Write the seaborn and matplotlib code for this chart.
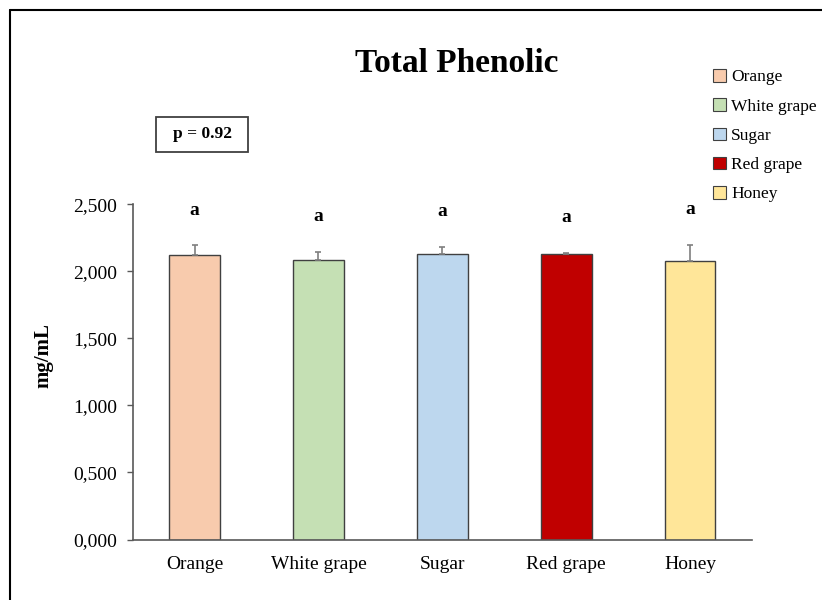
import numpy as np
import pandas as pd
import matplotlib.pyplot as plt
import seaborn as sns
from matplotlib.patches import Patch, Rectangle
from matplotlib.lines import Line2D

# --------------------------
# Data
# --------------------------
categories = ["Orange", "White grape", "Sugar", "Red grape", "Honey"]
means = [2.124, 2.083, 2.128, 2.126, 2.079]
sds = [0.071, 0.063, 0.057, 0.013, 0.119]
letters = ["a", "a", "a", "a", "a"]
colors = ["#F8CBAD", "#C5E0B4", "#BDD7EE", "#C00000", "#FFE699"]
p_text = "p = 0.92"

df = pd.DataFrame({"group": categories, "value": means, "sd": sds})
palette = dict(zip(categories, colors))

sns.set_style("white")
plt.rcParams["font.family"] = ["Liberation Serif", "DejaVu Serif"]
plt.rcParams["text.color"] = "black"
plt.rcParams["xtick.color"] = "black"
plt.rcParams["ytick.color"] = "black"

fig = plt.figure(figsize=(8.22, 6.0), dpi=100)
ax = fig.add_axes([0.1614, 0.1008, 0.7534, 0.5587])

sns.barplot(data=df, x="group", y="value", hue="group", palette=palette,
            order=categories, hue_order=categories, width=0.41, saturation=1,
            edgecolor="#404040", linewidth=1.0, legend=False, errorbar=None, ax=ax)

# upper-only error bars
ax.errorbar(np.arange(len(categories)), df["value"],
            yerr=[np.zeros(len(categories)), df["sd"]],
            fmt="none", ecolor="#7f7f7f", elinewidth=1.2, capsize=2.5, capthick=1.2)

# significance letters
for i, (m, s, lab) in enumerate(zip(means, sds, letters)):
    ax.text(i, m + s + 0.26, lab, ha="center", va="center",
            fontsize=14, fontweight="bold", color="black")

# axes styling
ax.set_ylim(0, 2.5)
ax.set_xlim(-0.5, len(categories) - 0.5)
yt = np.arange(0, 2.51, 0.5)
ax.set_yticks(yt)
ax.set_yticklabels([f"{v:.3f}".replace(".", ",") for v in yt], fontsize=14)
ax.set_xticks(np.arange(len(categories)))
ax.set_xticklabels(categories, fontsize=14)
ax.set_xticks(np.arange(-0.5, len(categories)), minor=True)
ax.tick_params(axis="x", which="major", length=0, pad=12, labelcolor="black")
ax.tick_params(axis="x", which="minor", length=4, width=1.0, color="#595959", direction="out")
ax.tick_params(axis="y", length=4, width=1.0, color="#595959", direction="out", pad=7,
               left=True, labelcolor="black")
ax.set_xlabel("")
ax.set_ylabel("")
for side in ["top", "right"]:
    ax.spines[side].set_visible(False)
for side in ["left", "bottom"]:
    ax.spines[side].set_color("#595959")
    ax.spines[side].set_linewidth(1.2)

# texts outside axes
fig.text(457 / 822, 1 - 63 / 600, "Total Phenolic", ha="center", va="center",
         fontsize=24, fontweight="bold", color="black")
fig.text(43 / 822, 1 - 355 / 600, "mg/mL", ha="center", va="center",
         rotation=90, fontsize=15, fontweight="bold", color="black")

# p-value box
fig.patches.append(Rectangle((156 / 822, 1 - 152 / 600), 92 / 822, 35 / 600,
                             transform=fig.transFigure, fill=False,
                             edgecolor="#404040", linewidth=1.3))
fig.text(202 / 822, 1 - 134 / 600, p_text, ha="center", va="center",
         fontsize=12.5, fontweight="bold", color="black")

# legend
handles = [Patch(facecolor=c, edgecolor="#404040", linewidth=0.8) for c in colors]
leg = fig.legend(handles, categories, loc="upper left",
                 bbox_to_anchor=(713 / 822, 1 - 69 / 600), frameon=False,
                 fontsize=12.5, handlelength=0.75, handleheight=0.75,
                 handletextpad=0.3, labelspacing=0.74, borderpad=0, borderaxespad=0)
for t in leg.get_texts():
    t.set_color("black")

# outer frame (left and top edges visible in the reference)
fig.lines.append(Line2D([9.5 / 822, 9.5 / 822], [0, 1 - 9.5 / 600],
                        transform=fig.transFigure, color="black", linewidth=1.5))
fig.lines.append(Line2D([9.5 / 822, 1], [1 - 9.5 / 600, 1 - 9.5 / 600],
                        transform=fig.transFigure, color="black", linewidth=1.5))

fig.savefig("out.png", dpi=100, facecolor="white")
